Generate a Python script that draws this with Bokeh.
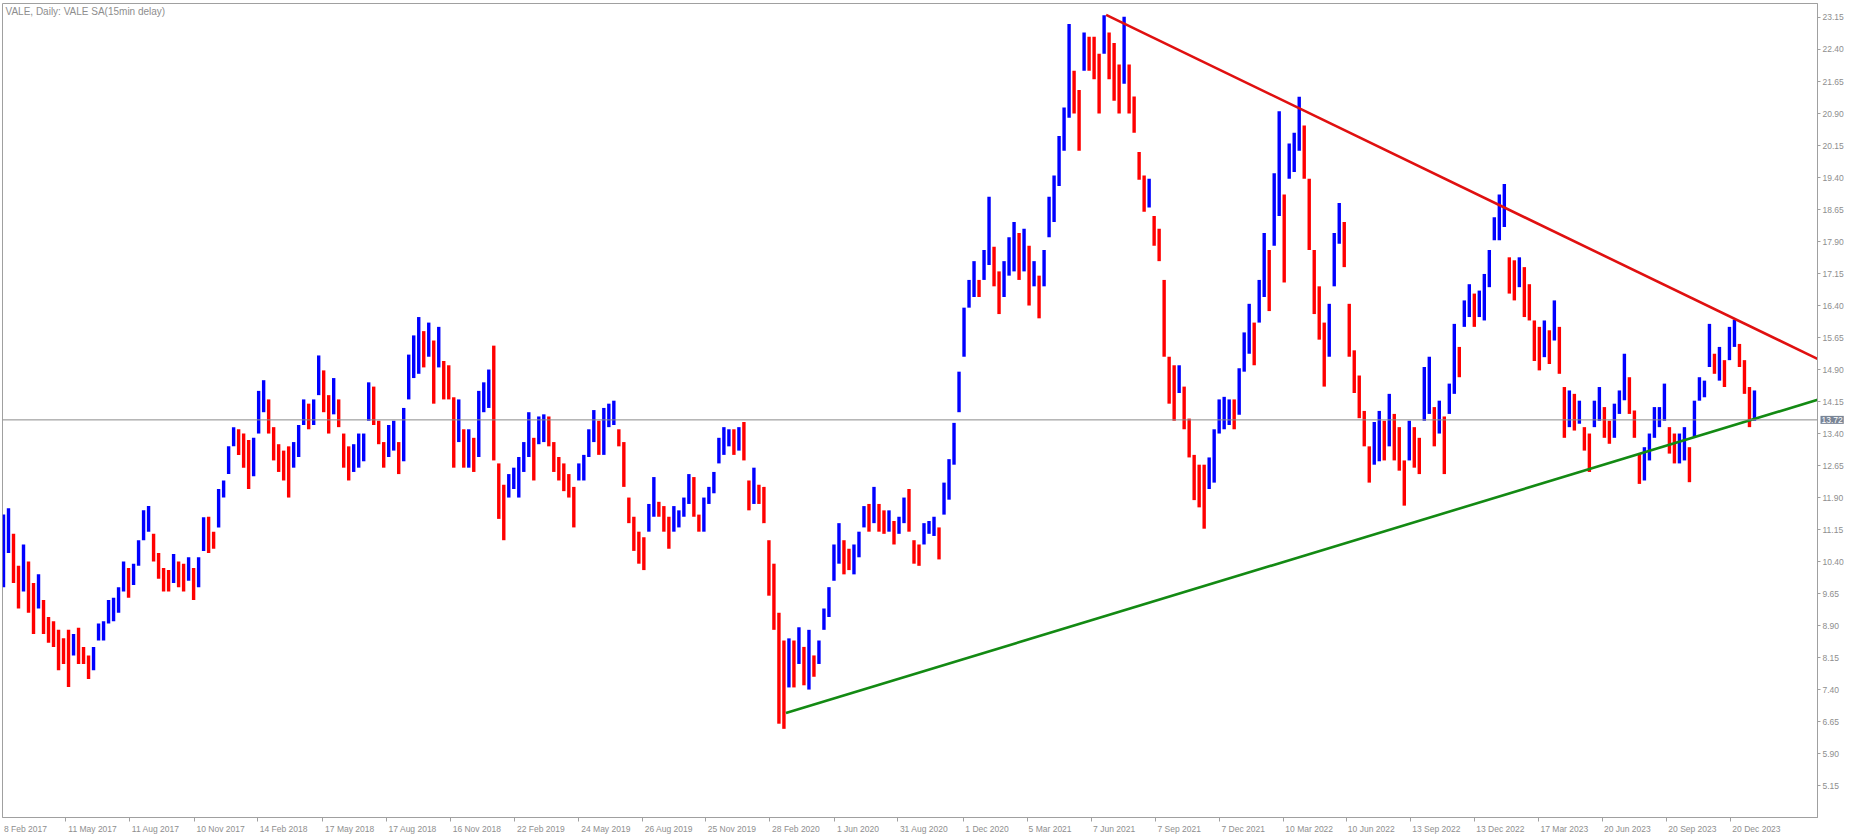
import numpy as np
from bokeh.plotting import figure
from bokeh.models import Range1d, FixedTicker, Span, Label, ColumnDataSource, NumeralTickFormatter
from bokeh.embed import file_html
from bokeh.resources import INLINE

# ---------------- data ----------------
# weekly bars (5 trading days each), trading-day index 0 = 8 Feb 2017
week_high = [
    11.5, 11.65, 11.05, 10.3, 10.8, 10.4, 9.9, 10.1, 9.5, 9.1,
    9.0, 8.8, 8.6, 8.8, 8.7, 8.85, 8.4, 8.2, 8.4, 8.95,
    9.0, 9.5, 9.55, 9.8, 10.4, 10.25, 10.35, 10.9, 11.6, 11.7,
    11.05, 10.6, 10.25, 10.2, 10.58, 10.4, 10.35, 10.5, 10.25, 10.5,
    11.44, 11.45, 11.1, 12.1, 12.3, 13.1, 13.55, 13.5, 13.4, 13.25,
    13.3, 14.4, 14.65, 14.2, 13.55, 13.15, 13.0, 13.1, 13.2, 13.6,
    14.2, 14.1, 14.2, 15.23, 14.88, 14.3, 14.7, 14.2, 13.4, 13.1,
    13.15, 13.4, 13.4, 14.6, 14.5, 13.7, 13.2, 13.6, 13.7, 13.2,
    14.0, 15.25, 15.7, 16.13, 15.8, 16.0, 15.58, 15.9, 15.1, 15.0,
    14.25, 14.2, 13.5, 13.5, 13.3, 14.4, 14.6, 14.9, 15.46, 12.7,
    12.2, 12.45, 12.6, 12.85, 13.2, 13.9, 13.3, 13.8, 13.85, 13.8,
    13.2, 12.85, 12.7, 12.45, 12.15, 12.7, 12.9, 13.5, 13.95, 13.7,
    14.0, 14.1, 14.17, 13.5, 13.2, 11.9, 11.45, 11.1, 10.97, 11.75,
    12.38, 11.8, 11.7, 11.45, 11.7, 11.6, 11.9, 12.45, 12.38, 11.5,
    11.9, 12.15, 12.5, 13.3, 13.55, 13.5, 13.5, 13.55, 13.67, 12.3,
    12.6, 12.2, 12.15, 10.9, 10.35, 9.2, 8.55, 8.6, 8.55, 8.86,
    8.4, 8.8, 8.2, 8.55, 9.3, 9.8, 10.8, 11.3, 10.9, 10.7,
    10.8, 11.1, 11.7, 11.75, 12.15, 11.75, 11.6, 11.6, 11.35, 11.45,
    11.9, 12.1, 10.9, 10.8, 11.3, 11.35, 11.45, 11.2, 12.25, 12.8,
    13.65, 14.85, 16.35, 17.0, 17.44, 17.0, 17.7, 18.95, 17.78, 17.2,
    17.44, 18.0, 18.36, 18.1, 18.2, 17.8, 17.44, 17.1, 17.7, 18.95,
    19.45, 20.37, 21.04, 23.0, 21.9, 21.45, 22.8, 22.7, 22.7, 22.3,
    23.2, 22.8, 22.55, 22.05, 23.17, 22.05, 21.3, 20.0, 19.45, 19.37,
    18.5, 18.2, 17.0, 15.2, 15.0, 15.0, 14.5, 13.75, 12.9, 12.67,
    12.67, 12.84, 13.5, 14.2, 14.26, 14.2, 14.2, 14.93, 15.77, 16.44,
    16.0, 17.0, 18.1, 17.7, 19.5, 20.95, 19.0, 20.2, 20.45, 21.29,
    20.62, 19.37, 17.7, 16.85, 16.0, 16.44, 18.1, 18.8, 18.36, 16.44,
    15.35, 14.76, 13.93, 13.1, 13.67, 13.93, 13.7, 14.33, 13.86, 13.55,
    12.77, 13.7, 13.55, 13.3, 14.96, 15.2, 14.02, 14.17, 13.8, 14.57,
    15.97, 15.43, 16.52, 16.9, 16.68, 16.75, 17.14, 17.7, 18.47, 19.0,
    19.25, 17.53, 17.46, 17.53, 17.3, 16.9, 16.05, 15.9, 16.05, 15.82,
    16.52, 15.9, 14.49, 14.41, 14.33, 14.17, 13.55, 13.4, 14.17, 14.49,
    14.02, 13.7, 14.1, 14.41, 15.27, 14.72, 13.94, 12.93, 13.08, 13.4,
    14.02, 14.02, 14.57, 13.55, 13.4, 13.4, 13.55, 13.08, 14.17, 14.72,
    14.64, 15.97, 15.27, 15.43, 15.12, 15.9, 16.07, 15.5, 15.12, 14.49,
    14.41,
]
week_low = [
    9.8, 10.6, 9.9, 9.3, 9.7, 9.2, 8.7, 9.3, 8.7, 8.5,
    8.4, 7.85, 8.0, 7.46, 8.2, 8.0, 8.0, 7.65, 7.85, 8.55,
    8.55, 8.95, 9.0, 9.2, 9.7, 9.55, 9.85, 10.3, 10.9, 11.1,
    10.4, 10.0, 9.7, 9.7, 9.9, 9.8, 9.7, 9.95, 9.5, 9.8,
    10.65, 10.6, 10.7, 11.2, 11.9, 12.45, 13.1, 12.9, 12.6, 12.1,
    12.4, 13.4, 13.9, 13.4, 12.77, 12.5, 12.3, 11.9, 12.6, 12.85,
    13.6, 13.5, 13.6, 14.3, 13.9, 13.4, 13.85, 13.55, 12.6, 12.3,
    12.5, 12.6, 12.75, 13.7, 13.6, 13.15, 12.6, 12.85, 13.0, 12.45,
    12.75, 14.2, 14.7, 14.8, 14.95, 15.2, 14.1, 14.95, 14.2, 14.2,
    12.6, 13.2, 12.6, 12.6, 12.5, 12.85, 13.9, 14.0, 12.77, 11.4,
    10.9, 11.9, 12.1, 11.9, 12.5, 12.85, 12.3, 13.15, 13.2, 13.1,
    12.5, 12.3, 12.05, 11.9, 11.2, 12.3, 12.3, 12.85, 13.2, 12.9,
    12.9, 13.55, 13.6, 13.1, 12.15, 11.3, 10.65, 10.35, 10.2, 11.1,
    11.45, 11.45, 11.1, 10.7, 11.1, 11.2, 11.45, 11.75, 11.45, 11.1,
    11.1, 11.75, 12.0, 12.7, 12.9, 13.1, 12.9, 13.0, 12.77, 11.6,
    11.75, 11.75, 11.3, 9.6, 8.8, 6.6, 6.48, 7.45, 7.45, 8.0,
    7.5, 7.4, 7.7, 8.0, 8.8, 9.1, 9.95, 10.35, 10.1, 10.2,
    10.1, 10.5, 11.2, 11.1, 11.3, 11.1, 11.05, 11.1, 10.8, 11.05,
    11.3, 11.1, 10.35, 10.3, 10.8, 11.05, 11.0, 10.45, 11.5, 11.85,
    12.67, 13.9, 15.2, 16.35, 16.6, 16.6, 17.0, 17.35, 16.85, 16.2,
    16.6, 17.1, 17.2, 17.0, 17.2, 16.4, 16.85, 16.1, 16.85, 18.0,
    18.36, 19.2, 20.03, 20.8, 20.9, 20.03, 21.9, 21.9, 21.7, 20.9,
    22.3, 21.7, 21.2, 20.9, 21.6, 20.9, 20.45, 19.35, 18.6, 18.7,
    17.8, 17.44, 15.2, 14.1, 13.7, 14.35, 13.5, 12.84, 11.84, 11.67,
    11.17, 12.1, 12.25, 13.4, 13.5, 13.6, 13.5, 13.84, 14.85, 15.27,
    15.0, 16.0, 16.6, 16.27, 17.8, 18.5, 16.94, 19.37, 19.53, 20.03,
    19.37, 17.7, 16.2, 15.6, 14.5, 15.2, 16.85, 17.85, 17.3, 15.2,
    14.35, 13.76, 13.1, 12.25, 12.67, 12.75, 12.77, 13.1, 12.77, 12.53,
    11.71, 12.77, 12.6, 12.45, 13.7, 13.86, 13.1, 13.4, 12.45, 13.86,
    14.33, 14.72, 15.9, 16.13, 15.9, 16.13, 16.05, 16.83, 17.93, 17.93,
    18.24, 16.68, 16.52, 16.83, 16.13, 16.05, 15.1, 14.88, 15.19, 15.03,
    15.58, 14.8, 13.3, 13.55, 13.47, 13.63, 13.0, 12.5, 13.55, 13.7,
    13.3, 13.16, 13.3, 13.86, 14.18, 13.86, 13.3, 12.22, 12.3, 12.77,
    13.3, 13.55, 13.7, 12.93, 12.7, 12.7, 12.77, 12.26, 13.3, 14.17,
    14.25, 14.96, 14.8, 14.64, 14.49, 15.12, 15.43, 14.96, 14.33, 13.55,
    13.7,
]

last_price = 13.72

# trendlines: (trading-day index, price)
resist_x = [1104, 1822]
resist_y = [23.21, 15.07]
support_x = [784, 1822]
support_y = [6.85, 14.24]

# axis ticks
price_ticks = [5.15, 5.90, 6.65, 7.40, 8.15, 8.90, 9.65, 10.40, 11.15, 11.90, 12.65,
               13.40, 14.15, 14.90, 15.65, 16.40, 17.15, 17.90, 18.65, 19.40, 20.15,
               20.90, 21.65, 22.40, 23.15]
date_ticks = [0, 64, 128, 193, 256, 321, 385, 449, 513, 577, 641, 704, 768, 833, 896,
              961, 1025, 1089, 1153, 1217, 1281, 1344, 1408, 1472, 1536, 1600, 1664, 1728]
date_labels = ["8 Feb 2017", "11 May 2017", "11 Aug 2017", "10 Nov 2017", "14 Feb 2018",
               "17 May 2018", "17 Aug 2018", "16 Nov 2018", "22 Feb 2019", "24 May 2019",
               "26 Aug 2019", "25 Nov 2019", "28 Feb 2020", "1 Jun 2020", "31 Aug 2020",
               "1 Dec 2020", "5 Mar 2021", "7 Jun 2021", "7 Sep 2021", "7 Dec 2021",
               "10 Mar 2022", "10 Jun 2022", "13 Sep 2022", "13 Dec 2022", "17 Mar 2023",
               "20 Jun 2023", "20 Sep 2023", "20 Dec 2023"]

# ---------------- figure ----------------
GRAY = "#8e8e8e"
FONT = "Liberation Sans"

p = figure(width=1869, height=838, output_backend="svg", toolbar_location=None,
           x_range=Range1d(1, 1815), y_range=Range1d(4.402, 23.478),
           y_axis_location="right", x_axis_location="below",
           min_border_left=2, min_border_top=3, min_border_right=46, min_border_bottom=21,
           background_fill_color="white", border_fill_color="white")
p.grid.visible = False
p.outline_line_color = "#a0a0a0"
p.outline_line_width = 1

# weekly bars
n = len(week_high)
wx = 2 + 5 * np.arange(n)
mids = [(h + l) / 2 for h, l in zip(week_high, week_low)]
colors = ["#0000ff"]
for i in range(1, n):
    colors.append("#0000ff" if mids[i] >= mids[i - 1] else "#ff0000")
src = ColumnDataSource(dict(x=wx, top=week_high, bottom=week_low, color=colors))
p.vbar(x="x", top="top", bottom="bottom", width=3.4, fill_color="color", line_color=None,
       source=src)

# last price line
p.add_layout(Span(location=last_price, dimension="width", line_color="#8a8a8a", line_width=1))

# trendlines
p.line(resist_x, resist_y, line_color="#e01010", line_width=2.6)
p.line(support_x, support_y, line_color="#138a13", line_width=2.6)

# price axis (right)
ya = p.yaxis[0]
ya.ticker = FixedTicker(ticks=price_ticks)
ya.formatter = NumeralTickFormatter(format="0.00")
ya.axis_line_color = "#a0a0a0"
ya.major_tick_line_color = "#a0a0a0"
ya.major_tick_out = 3
ya.major_tick_in = 0
ya.minor_tick_out = 0
ya.minor_tick_in = 0
ya.major_label_standoff = 2
ya.major_label_text_font = FONT
ya.major_label_text_font_size = "8.5px"
ya.major_label_text_color = GRAY

# date axis (below): labels left-aligned at their tick like the source
cw = {" ": 0.278, "M": 0.833, "F": 0.611, "A": 0.667, "N": 0.722, "D": 0.722, "S": 0.667,
      "J": 0.5, "y": 0.5, "v": 0.5, "c": 0.5, "r": 0.333}
fs = 8.5
centers = []
overrides = {}
for t, lab in zip(date_ticks, date_labels):
    w = sum(cw.get(ch, 0.556) for ch in lab) * fs
    c = int(round(t + 2 + w / 2))
    centers.append(c)
    overrides[c] = lab
xa = p.xaxis[0]
xa.ticker = FixedTicker(ticks=centers, minor_ticks=date_ticks)
xa.major_label_overrides = overrides
xa.axis_line_color = "#a0a0a0"
xa.major_tick_out = 0
xa.major_tick_in = 0
xa.minor_tick_out = 4
xa.minor_tick_in = 0
xa.minor_tick_line_color = "#a0a0a0"
xa.major_label_standoff = 2
xa.major_label_text_font = FONT
xa.major_label_text_font_size = "8.5px"
xa.major_label_text_color = GRAY

# title inside the chart, top-left
p.add_layout(Label(x=3, y=812, x_units="screen", y_units="screen",
                   text="VALE, Daily:  VALE SA(15min delay)", text_font=FONT,
                   text_font_size="10px", text_color=GRAY, text_baseline="top"))

# last price tag on the price scale (side panel so it is not clipped to the frame)
tag_kw = dict(x=1818, y=last_price, text=f"{last_price:.2f}", text_font=FONT,
              text_font_size="8.5px", text_color="white", text_baseline="middle",
              background_fill_color="#7a8596")
if "padding" in Label.properties():
    tag_kw["padding"] = 1
tag = Label(**tag_kw)
p.add_layout(tag, "right")

open("out.html", "w").write(file_html(p, INLINE))
